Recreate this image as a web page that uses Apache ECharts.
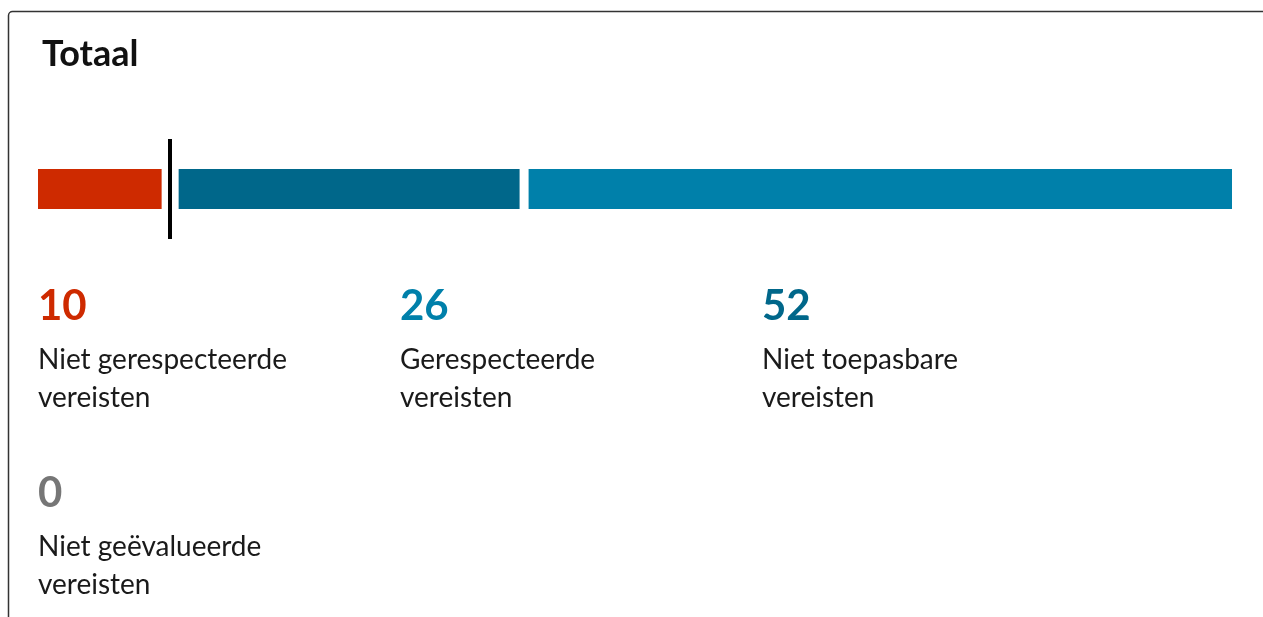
<!DOCTYPE html>
<html>
<head>
<meta charset="utf-8">
<script src="https://cdn.jsdelivr.net/npm/echarts@6/dist/echarts.min.js"></script>
<style>
html, body { margin: 0; padding: 0; background: #fff; }
#chart { width: 1263px; height: 617px; }
</style>
</head>
<body>
<div id="chart"></div>
<script>
// bar segments (left to right)
var barNames = ['Niet gerespecteerde', 'Gerespecteerde', 'Niet toepasbare'];
var barValues = [10, 26, 52];
var threshold = 10;

// legend blocks under the bar
var legendValues = [10, 26, 52, 0];
var legendLabels = ['Niet gerespecteerde\nvereisten', 'Gerespecteerde\nvereisten', 'Niet toepasbare\nvereisten', 'Niet geëvalueerde\nvereisten'];

var barColors = ['#ce2a00', '#00678a', '#0080aa'];
var legendColors = ['#ce2a00', '#0080aa', '#00678a', '#767676'];
// padding at the left edge, gaps between segments, padding at the right edge
var gaps = [4, 17, 9, 0];
var FONT = 'Lato, "Noto Sans", sans-serif';

(function () {
	var myChart = echarts.init(document.getElementById('chart'));

	var total = 0;
	var segs = [];
	for (var i = 0; i < barValues.length; i++) {
		segs.push([total, total + barValues[i], i]);
		total += barValues[i];
	}

	var graphics = [{
		type : 'rect',
		shape : { x : 8.5, y : 11.5, width : 1400, height : 800, r : 4 },
		style : { fill : 'none', stroke : '#333', lineWidth : 1.5 },
		silent : true
	}];
	for (var j = 0; j < legendValues.length; j++) {
		var col = j % 3, row = Math.floor(j / 3);
		var x = 38 + col * 362, y = 285 + row * 187;
		graphics.push({
			type : 'text',
			x : x, y : y,
			style : {
				text : String(legendValues[j]),
				font : 'bold 42px ' + FONT,
				fill : legendColors[j]
			}
		});
		graphics.push({
			type : 'text',
			x : x, y : y + 56,
			style : {
				text : legendLabels[j],
				font : '28px ' + FONT,
				lineHeight : 38,
				fill : '#1a1a1a'
			}
		});
	}

	var option = {
		animation : false,
		title : {
			text : 'Totaal',
			left : 37,
			top : 31,
			textStyle : { fontFamily : FONT, fontSize : 36, fontWeight : 'bold', color : '#111' }
		},
		grid : { left : 34, right : 31, top : 139, height : 100 },
		xAxis : { type : 'value', min : 0, max : total, show : false },
		yAxis : { type : 'category', data : ['Totaal'], show : false },
		series : [ {
			type : 'custom',
			data : segs,
			encode : { x : [0, 1] },
			renderItem : function (params, api) {
				var idx = api.value(2);
				var s = api.coord([api.value(0), 0]);
				var e = api.coord([api.value(1), 0]);
				var gl = idx === 0 ? gaps[0] : gaps[idx] / 2;
				var gr = idx === barValues.length - 1 ? gaps[idx + 1] : gaps[idx + 1] / 2;
				var h = 40;
				return {
					type : 'rect',
					shape : { x : s[0] + gl, y : s[1] - h / 2, width : e[0] - s[0] - gl - gr, height : h },
					style : { fill : barColors[idx] }
				};
			}
		}, {
			type : 'line',
			data : [],
			markLine : {
				silent : true,
				symbol : 'none',
				label : { show : false },
				lineStyle : { color : '#000', width : 4, type : 'solid' },
				data : [ { xAxis : threshold } ]
			}
		} ],
		graphic : graphics
	};
	myChart.setOption(option);
})();
</script>
</body>
</html>
